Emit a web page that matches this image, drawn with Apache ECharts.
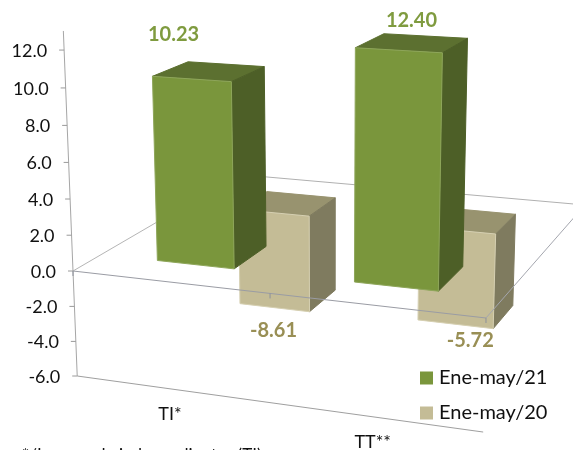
<!DOCTYPE html>
<html>
<head>
<meta charset="utf-8">
<title>Ene-may</title>
<script src="https://cdn.jsdelivr.net/npm/echarts@6/dist/echarts.min.js"></script>
<style>
  html, body { margin: 0; padding: 0; background: #fff; }
  #chart { width: 573px; height: 450px; overflow: hidden; }
</style>
</head>
<body>
<div id="chart"></div>
<script>
const categories = ['TI*', 'TT**'];
const ene21 = [10.23, 12.40];
const ene20 = [-8.61, -5.72];
const yTicks = [-6, -4, -2, 0, 2, 4, 6, 8, 10, 12];
const yTickLabels = ['-6.0', '-4.0', '-2.0', '0.0', '2.0', '4.0', '6.0', '8.0', '10.0', '12.0'];

const Y_MIN = -6;
const Y_MAX = 13;
const FONT = 'Lato, "Noto Sans", sans-serif';

// perspectiva de la caja 3D: u a lo ancho, d en profundidad, v en unidades del eje
const project = (u, d, v) => {
  const w = 1 - 0.0874 * u + 0.2172 * d - 0.002786 * v;
  return [
    (73 + 370.5 * u + 217.4 * d - 0.919 * v) / w,
    (271 + 19.2 * u - 58.6 * d - 18.55 * v) / w
  ];
};

// pasa por las escalas de ECharts y devuelve la posicion en la caja
const toBox = (api, params, cat, value) => {
  const rect = params.coordSys;
  const p = api.coord([cat, value]);
  return {
    u: (p[0] - rect.x) / rect.width,
    v: Y_MIN + (Y_MAX - Y_MIN) * (rect.y + rect.height - p[1]) / rect.height,
    barWidth: 0.4 * api.size([1, 0])[0] / rect.width
  };
};

const poly = (points, fill, stroke) => ({
  type: 'polygon',
  shape: { points },
  style: { fill, stroke: stroke || fill, lineWidth: 1 }
});

const seg = (a, b, stroke) => ({
  type: 'line',
  shape: { x1: a[0], y1: a[1], x2: b[0], y2: b[1] },
  style: { stroke, lineWidth: 1 }
});

const text = (str, x, y, font, fill, align) => ({
  type: 'text',
  style: { text: str, x, y, font, fill, align: align || 'center', verticalAlign: 'middle' }
});

const barSeries = (name, values, depth, colors, offsets) => ({
  name,
  type: 'custom',
  coordinateSystem: 'cartesian2d',
  itemStyle: { color: colors.front },
  z: depth < 0.5 ? 5 : 3,
  data: values.map((v, i) => [i, v]),
  renderItem(params, api) {
    const cat = api.value(0);
    const value = api.value(1);
    const box = toBox(api, params, cat, Math.max(value, Y_MIN));
    const half = box.barWidth / 2;
    const u0 = box.u - half;
    const u1 = box.u + half;
    const d0 = depth - 0.1;
    const d1 = depth + 0.1;
    const hi = Math.max(box.v, 0);
    const lo = Math.min(box.v, 0);
    const at = project(box.u, d0, box.v);
    const off = offsets[cat];
    return {
      type: 'group',
      children: [
        poly([project(u0, d0, hi), project(u1, d0, hi), project(u1, d1, hi), project(u0, d1, hi)], colors.top),
        poly([project(u1, d0, hi), project(u1, d1, hi), project(u1, d1, lo), project(u1, d0, lo)], colors.side),
        poly([project(u0, d0, hi), project(u1, d0, hi), project(u1, d0, lo), project(u0, d0, lo)], colors.front, colors.edge),
        text(value.toFixed(2), at[0] + off[0], at[1] + off[1], 'bold 20px ' + FONT, colors.label)
      ]
    };
  }
});

const option = {
  animation: false,
  backgroundColor: '#fff',
  grid: { left: 73, top: 31, right: 87, bottom: 72 },
  xAxis: { type: 'category', data: categories, show: false },
  yAxis: { type: 'value', min: Y_MIN, max: Y_MAX, show: false },
  legend: {
    orient: 'vertical',
    left: 420,
    top: 368,
    padding: 0,
    itemWidth: 13,
    itemHeight: 13,
    itemGap: 15,
    icon: 'rect',
    textStyle: { fontFamily: FONT, fontSize: 20, color: '#111', padding: [0, 0, 0, 1] },
    data: ['Ene-may/21', 'Ene-may/20']
  },
  graphic: [{
    type: 'text',
    left: 22,
    top: 447,
    style: { text: '*/Ingreso de independientes (TI)', font: '17px ' + FONT, fill: '#111' }
  }],
  series: [
    {
      // eje vertical, marcas y lineas del suelo que quedan detras de las barras
      type: 'custom',
      coordinateSystem: 'cartesian2d',
      z: 1,
      data: yTicks.map((t, i) => [0, t, i]),
      renderItem(params, api) {
        const v = toBox(api, params, 0, api.value(1)).v;
        const p = project(0, 0, v);
        const children = [
          seg(p, [p[0] - 5, p[1]], '#9a9a9a'),
          text(yTickLabels[api.value(2)], p[0] - 17, p[1] + 1, '18px ' + FONT, '#111', 'right')
        ];
        if (params.dataIndex === 0) {
          children.push(
            seg(project(0, 0, Y_MIN), project(0, 0, Y_MAX), '#a6a6a6'),
            seg(project(0, 0, Y_MIN), project(1, 0, Y_MIN), '#9f9f9f'),
            seg(project(0, 0, 0), project(0, 1, 0), '#b5b5b5'),
            seg(project(0, 1, 0), project(1, 1, 0), '#b0b0b0')
          );
        }
        return { type: 'group', children };
      }
    },
    barSeries('Ene-may/20', ene20, 0.746, {
      front: '#c4bc96', top: '#98936f', side: '#7f7b5f', edge: '#d6d0b2', label: '#998f55'
    }, [[-1, 23], [15, 16]]),
    {
      // linea frontal y lateral del suelo, pasan por encima de las barras negativas
      type: 'custom',
      coordinateSystem: 'cartesian2d',
      z: 4,
      data: categories.map((c, i) => [i, 0]),
      renderItem(params, api) {
        const box = toBox(api, params, api.value(0), 0);
        const tick = (u) => {
          const p = project(u, 0, 0);
          return seg(p, [p[0], p[1] + 5], '#8d919c');
        };
        const base = project(box.u, 0, Y_MIN);
        const children = [
          text(categories[api.value(0)], base[0] - 2, base[1] + 25, '18px ' + FONT, '#111')
        ];
        if (params.dataIndex === 0) {
          children.push(
            seg(project(0, 0, 0), project(1, 0, 0), '#9a9ca4'),
            seg(project(1, 0, 0), project(1, 1, 0), '#a4a6ae'),
            tick(0), tick(0.5), tick(1)
          );
        }
        return { type: 'group', children };
      }
    },
    barSeries('Ene-may/21', ene21, 0.246, {
      front: '#7a963c', top: '#5c7030', side: '#4d5f27', edge: '#8ea65a', label: '#7f9b3f'
    }, [[-18, -44], [13, -30]])
  ]
};

const chart = echarts.init(document.getElementById('chart'));
chart.setOption(option);
window.onresize = () => {
  chart.resize();
};
</script>
</body>
</html>
